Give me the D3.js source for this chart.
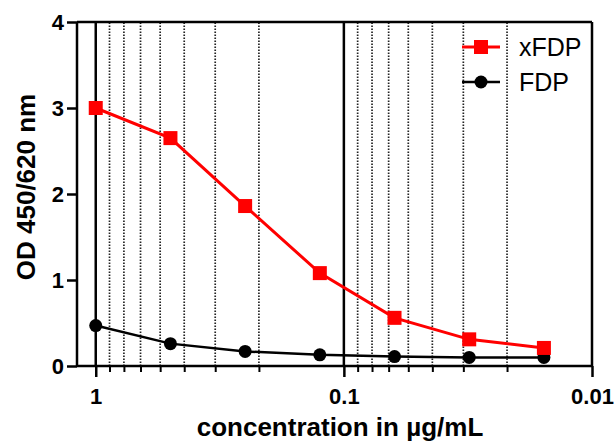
<!DOCTYPE html>
<html><head><meta charset="utf-8">
<script src="https://cdn.jsdelivr.net/npm/d3@7"></script>
<style>body{margin:0;background:#fff}svg{display:block}</style>
</head><body>
<script>
const concentrations = [1, 0.5, 0.25, 0.125, 0.0625, 0.03125, 0.015625];
const xFDP = [3.0, 2.65, 1.86, 1.08, 0.56, 0.31, 0.21];
const FDP = [0.47, 0.26, 0.17, 0.13, 0.11, 0.10, 0.10];
const majorTicks = [1, 0.1, 0.01];
const majorLabels = ["1", "0.1", "0.01"];
const minorTicks = [0.88, 0.77, 0.66, 0.55, 0.44, 0.33, 0.22, 0.088, 0.077, 0.066, 0.055, 0.044, 0.033, 0.022];
const yTicks = [0, 1, 2, 3, 4];
const seriesNames = ["xFDP", "FDP"];

const W = 614, H = 446;
const L = 77, R = 592, T = 22, B = 366;
const svg = d3.select("body").append("svg").attr("width", W).attr("height", H);
const font = "'Liberation Sans', Arial, sans-serif";

const x = d3.scaleLog().domain([1.19, 0.01]).range([L, R]);
const y = d3.scaleLinear().domain([0, 4]).range([B, T]);

// gridlines
svg.append("g").selectAll("line").data(minorTicks).join("line")
  .attr("x1", d => x(d)).attr("x2", d => x(d)).attr("y1", B).attr("y2", T)
  .attr("stroke", "#222").attr("stroke-width", 1.7).attr("stroke-dasharray", "1.5,1.5");
svg.append("g").selectAll("line").data(majorTicks.slice(0, 2)).join("line")
  .attr("x1", d => x(d)).attr("x2", d => x(d)).attr("y1", B).attr("y2", T)
  .attr("stroke", "#000").attr("stroke-width", 2.5);

// frame top/right
svg.append("line").attr("x1", L).attr("x2", R).attr("y1", T).attr("y2", T).attr("stroke", "#000").attr("stroke-width", 2.5);
svg.append("line").attr("x1", R).attr("x2", R).attr("y1", T).attr("y2", B).attr("stroke", "#000").attr("stroke-width", 2.5);

// x axis
const xAxis = d3.axisBottom(x).tickValues(majorTicks).tickFormat((d, i) => majorLabels[i]).tickSize(11).tickPadding(11);
const gx = svg.append("g").attr("transform", `translate(0,${B})`).call(xAxis);
gx.select(".domain").attr("d", `M${L},0H${R}`).attr("stroke-width", 2.5);
gx.selectAll(".tick line").attr("stroke-width", 2.5);
gx.selectAll("text").attr("font-family", font).attr("font-weight", "bold").attr("font-size", 22).attr("fill", "#000");
const gxm = svg.append("g").attr("transform", `translate(0,${B})`)
  .call(d3.axisBottom(x).tickValues(minorTicks).tickFormat("").tickSize(6));
gxm.select(".domain").remove();
gxm.selectAll(".tick line").attr("stroke-width", 2);

// y axis
const gy = svg.append("g").attr("transform", `translate(${L},0)`)
  .call(d3.axisLeft(y).tickValues(yTicks).tickFormat(d3.format("d")).tickSize(10).tickPadding(3));
gy.select(".domain").attr("d", `M0,${B}V${T}`).attr("stroke-width", 2.5);
gy.selectAll(".tick line").attr("stroke-width", 2.5);
gy.selectAll("text").attr("font-family", font).attr("font-weight", "bold").attr("font-size", 22).attr("fill", "#000");

// titles
svg.append("text").attr("x", 340).attr("y", 436).attr("text-anchor", "middle")
  .attr("font-family", font).attr("font-weight", "bold").attr("font-size", 26).text("concentration in µg/mL");
svg.append("text").attr("transform", `translate(35,187) rotate(-90)`).attr("text-anchor", "middle")
  .attr("font-family", font).attr("font-weight", "bold").attr("font-size", 26).text("OD 450/620 nm");

const line = d3.line().x(d => x(d[0])).y(d => y(d[1]));
const fdpData = concentrations.map((c, i) => [c, FDP[i]]);
const xfdpData = concentrations.map((c, i) => [c, xFDP[i]]);

// FDP
svg.append("path").datum(fdpData).attr("d", line).attr("fill", "none").attr("stroke", "#000").attr("stroke-width", 2.5);
svg.append("g").selectAll("circle").data(fdpData).join("circle")
  .attr("cx", d => x(d[0])).attr("cy", d => y(d[1])).attr("r", 6.5).attr("fill", "#000");
// xFDP
svg.append("path").datum(xfdpData).attr("d", line).attr("fill", "none").attr("stroke", "#ff0000").attr("stroke-width", 3);
svg.append("g").selectAll("rect").data(xfdpData).join("rect")
  .attr("x", d => x(d[0]) - 7).attr("y", d => y(d[1]) - 7).attr("width", 14).attr("height", 14).attr("fill", "#ff0000");

// legend
const lg = svg.append("g");
const legY = [47, 82];
lg.append("line").attr("x1", 462).attr("x2", 500).attr("y1", legY[0]).attr("y2", legY[0]).attr("stroke", "#ff0000").attr("stroke-width", 3);
lg.append("rect").attr("x", 474).attr("y", legY[0] - 7).attr("width", 14).attr("height", 14).attr("fill", "#ff0000");
lg.append("line").attr("x1", 462).attr("x2", 500).attr("y1", legY[1]).attr("y2", legY[1]).attr("stroke", "#000").attr("stroke-width", 2.5);
lg.append("circle").attr("cx", 481).attr("cy", legY[1]).attr("r", 6.5).attr("fill", "#000");
lg.selectAll("text").data(seriesNames).join("text")
  .attr("x", 519).attr("y", (d, i) => legY[i] + 8.5)
  .attr("font-family", font).attr("font-size", 25).text(d => d);
</script>
</body></html>
